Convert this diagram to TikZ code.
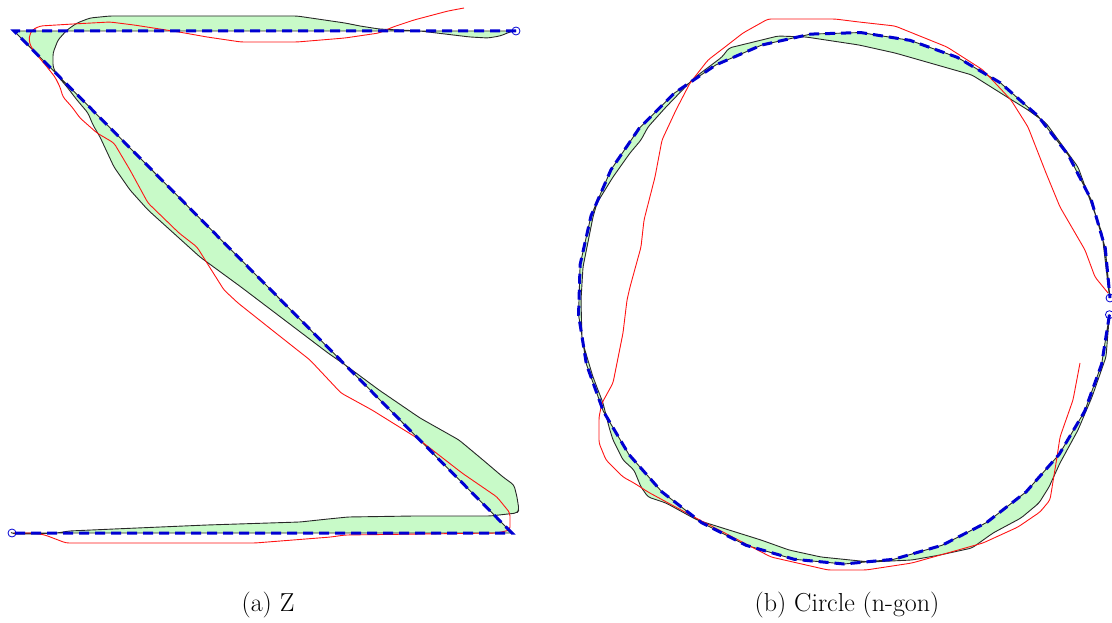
\documentclass[tikz,border=0pt]{standalone}
\definecolor{lobe}{RGB}{200,250,200}
\definecolor{edge}{RGB}{40,40,40}
\definecolor{fitblue}{RGB}{0,0,210}
\definecolor{strokered}{RGB}{255,20,20}
\tikzset{
  lobefill/.style={fill=lobe, draw=edge, line width=0.9pt, even odd rule, line join=round},
  fitline/.style={draw=fitblue, line width=3pt, dash pattern=on 10pt off 6pt},
  rawstroke/.style={draw=strokered, line width=0.9pt, line join=round, rounded corners=3pt},
  endmark/.style={draw=fitblue, line width=0.8pt, fill=none},
  caption/.style={font=\fontsize{26}{31}\selectfont, inner sep=0pt}
}
\begin{document}
\begin{tikzpicture}[x=1pt,y=-1pt]
\useasboundingbox (0,0) rectangle (1112,623);
% ---------------- Z ----------------
\def\zblack{(510,32) -- (500,36) -- (488,38) -- (470,37) -- (445,34) -- (420,31) -- (379,29) -- (360,26) -- (345,23) -- (297,16) -- (200,16) -- (110,16) -- (90,18) -- (77,23) -- (67,30) -- (58,40) -- (53,53) -- (53,67) -- (57,75) -- (67,87) -- (77,100) -- (88,113) -- (93,125) -- (100,137) -- (114,167) -- (130,190) -- (148,210) -- (200,257) -- (241,287) -- (328,353) -- (348,367) -- (379,390) -- (420,418) -- (459,440) -- (483,460) -- (503,477) -- (514,485) -- (517,497) -- (519,510) -- (517,513) -- (490,516) -- (414,516) -- (348,517) -- (328,519) -- (300,522) -- (207,525) -- (114,529) -- (69,531) -- (57,533) -- (34,534) -- (14,534)}
\coordinate (zA) at (516,31);
\coordinate (zB) at (14,31);
\coordinate (zC) at (512,533);
\coordinate (zD) at (12,533);
\path[lobefill] [rounded corners=3pt] \zblack [sharp corners] -- (zD) -- (zC) -- (zB) -- (zA) -- cycle;
\draw[rawstroke] (464,8) -- (448,11) -- (414,20) -- (393,27) -- (379,33) -- (345,38) -- (297,42) -- (241,42) -- (207,37) -- (179,32) -- (134,25) -- (110,22) -- (73,24) -- (40,26) -- (32,30) -- (29,37) -- (30,45) -- (37,55) -- (47,67) -- (55,77) -- (60,87) -- (63,97) -- (72,107) -- (80,118) -- (97,133) -- (114,143) -- (130,170) -- (148,203) -- (179,233) -- (197,247) -- (207,263) -- (224,290) -- (238,303) -- (272,330) -- (310,360) -- (341,393) -- (372,410) -- (417,438) -- (462,473) -- (497,497) -- (510,513) -- (510,530) -- (497,533) -- (345,535) -- (331,537) -- (255,543) -- (66,543) -- (45,535) -- (34,533) -- (14,533);
\draw[fitline] (zA) -- (zB) -- (zC) -- (zD);
\draw[endmark] (zA) circle (4);
\draw[endmark] (zD) circle (4);
% ---------------- Circle ----------------
\def\cblack{(1109,293) -- (1102,233) -- (1078,167) -- (1046,123) -- (1028,110) -- (1007,97) -- (972,75) -- (937,65) -- (895,53) -- (859,45) -- (806,37) -- (778,36) -- (729,48) -- (722,57) -- (694,78) -- (666,107) -- (648,127) -- (641,140) -- (630,153) -- (613,177) -- (597,203) -- (593,217) -- (583,267) -- (581,300) -- (582,340) -- (587,357) -- (593,377) -- (603,403) -- (609,427) -- (613,440) -- (623,460) -- (634,470) -- (641,487) -- (648,497) -- (666,503) -- (697,520) -- (761,540) -- (789,550) -- (821,557) -- (870,562) -- (912,560) -- (940,555) -- (972,548) -- (993,533) -- (1021,518) -- (1039,503) -- (1049,487) -- (1060,463) -- (1078,430) -- (1092,397) -- (1106,357) -- (1109,320)}
\coordinate (cS) at ({844+266*cos(3.6)},{298+266*sin(3.6)});
\coordinate (cE) at (1110,298);
\path[lobefill] [rounded corners=3pt] \cblack [sharp corners] -- plot[domain=3.6:360, samples=34] ({844+266*cos(\x)},{298+266*sin(\x)}) -- cycle;
\draw[rawstroke] (1080,363) -- (1073,400) -- (1060,437) -- (1057,457) -- (1050,500) -- (1040,512) -- (1018,527) -- (983,543) -- (912,563) -- (866,570) -- (828,570) -- (771,557) -- (694,517) -- (648,492) -- (634,483) -- (623,477) -- (606,460) -- (599,443) -- (599,417) -- (602,403) -- (613,383) -- (623,333) -- (627,300) -- (630,287) -- (641,247) -- (644,220) -- (655,177) -- (662,140) -- (676,110) -- (690,83) -- (708,60) -- (725,47) -- (743,33) -- (768,19) -- (835,19) -- (859,22) -- (895,26) -- (947,47) -- (983,70) -- (1011,100) -- (1028,127) -- (1046,173) -- (1060,207) -- (1085,250) -- (1095,277) -- (1108,293);
\draw[fitline] plot[domain=3.6:360, samples=34] ({844+266*cos(\x)},{298+266*sin(\x)});
\draw[endmark] (cS) circle (4);
\draw[endmark] (cE) circle (4);
% ---------------- captions ----------------
\node[caption] (capa) at (268,605) {(a) Z};
\node[caption] (capb) at (847,605) {(b) Circle (n-gon)};
\end{tikzpicture}
\end{document}
